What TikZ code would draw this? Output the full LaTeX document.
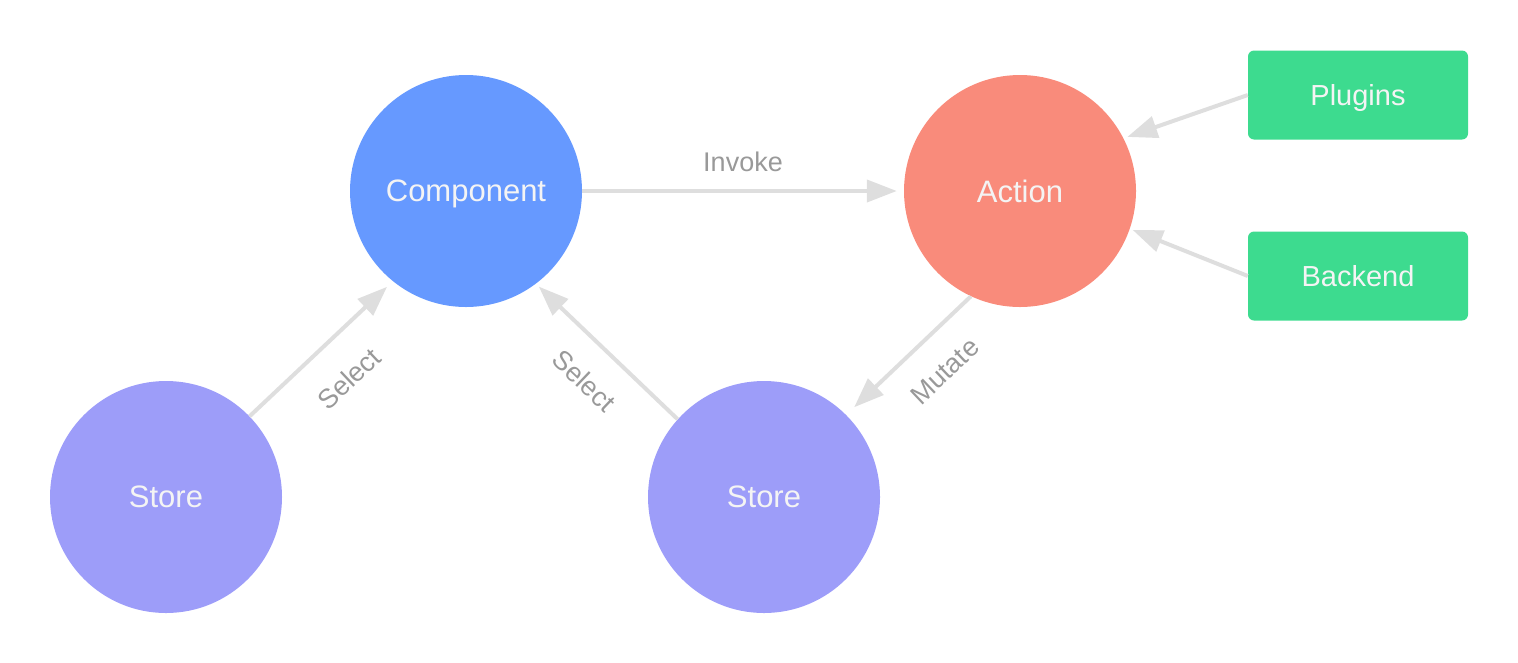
\documentclass[tikz,border=0pt]{standalone}
\usepackage{fontspec}
\setmainfont{Liberation Sans}
\usetikzlibrary{arrows.meta}
\definecolor{compblue}{HTML}{6699FF}
\definecolor{actred}{HTML}{F98B7B}
\definecolor{storeviolet}{HTML}{9D9DF9}
\definecolor{srcgreen}{HTML}{3DDB8F}
\definecolor{flowgray}{HTML}{DEDEDE}
\definecolor{labelgray}{HTML}{999999}
\definecolor{nodetext}{HTML}{F4F4F4}

\begin{document}
\begin{tikzpicture}
[every node/.style={inner sep=3pt},
 ball/.style={circle, minimum size=232pt, text=nodetext, text depth=0pt, font=\fontsize{31}{31}\selectfont},
 srcbox/.style={rectangle, rounded corners=6pt, minimum width=220pt, minimum height=89pt, fill=srcgreen, text=nodetext, text depth=0pt, font=\fontsize{29}{29}\selectfont},
 flow/.style={line width=4pt, color=flowgray, -{Triangle[length=30pt, width=22pt]}},
 flowlabel/.style={text=labelgray, font=\fontsize{27}{27}\selectfont}]
\useasboundingbox (0pt, 0pt) rectangle (1518pt, -662pt);
\node (comp) [ball, fill=compblue] at (466pt, -191pt) {Component};
\node (action) [ball, fill=actred] at (1020pt, -191pt) {Action};
\node (store1) [ball, fill=storeviolet] at (166pt, -497pt) {Store};
\node (store2) [ball, fill=storeviolet] at (764pt, -497pt) {Store};
\node (plugins) [srcbox] at (1358pt, -95pt) {Plugins};
\node (backend) [srcbox] at (1358pt, -276pt) {Backend};
\draw [flow, shorten >=7pt] (comp) -- node [flowlabel, above=14pt] {Invoke} (action);
\draw [flow, shorten >=4pt] (plugins.west) -- (action.27);
\draw [flow, shorten >=3pt] (backend.west) -- (action.-19);
\draw [flow, shorten >=11pt] (action.245) -- node [flowlabel, sloped, pos=0.41, below=22pt] {Mutate} (store2.45);
\draw [flow, shorten >=4pt] (store2.138) -- node [flowlabel, sloped, pos=0.48, below=22pt] {Select} (comp.-53);
\draw [flow, shorten >=8pt] (store1.44) -- node [flowlabel, sloped, below=26pt] {Select} (comp.231);
\end{tikzpicture}
\end{document}
